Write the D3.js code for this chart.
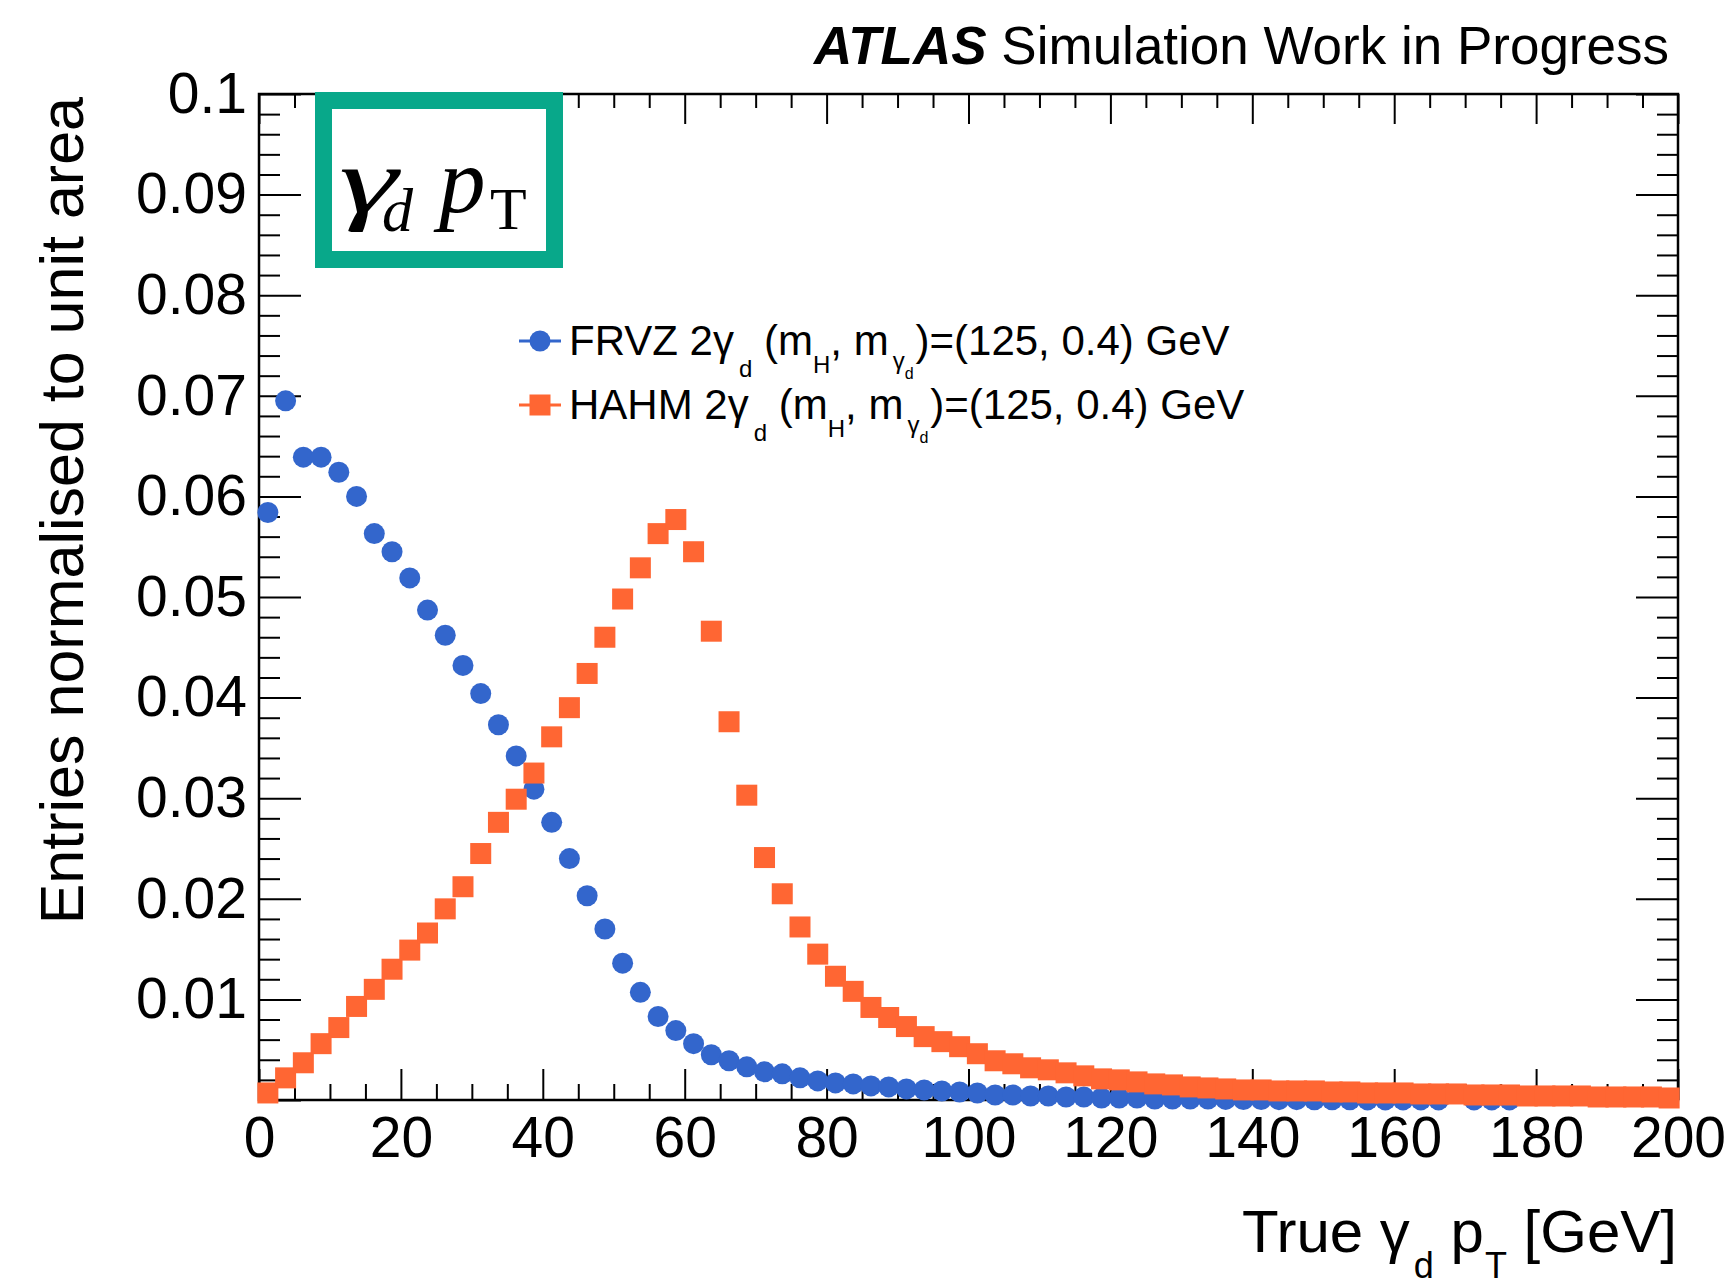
<!DOCTYPE html>
<html>
<head>
<meta charset="utf-8">
<script src="https://cdn.jsdelivr.net/npm/d3@7"></script>
<style>
  body { margin: 0; background: #ffffff; }
  svg { display: block; }
  text { font-family: "Liberation Sans", Arial, Helvetica, sans-serif; fill: #000; }
</style>
</head>
<body>
<svg id="chart" width="1733" height="1286"></svg>
<script>
// Histogram bin centres (80 bins of 2.5 GeV between 0 and 200 GeV)
const binCenters = [
  1.25, 3.75, 6.25, 8.75, 11.25, 13.75, 16.25, 18.75, 21.25, 23.75,
  26.25, 28.75, 31.25, 33.75, 36.25, 38.75, 41.25, 43.75, 46.25, 48.75,
  51.25, 53.75, 56.25, 58.75, 61.25, 63.75, 66.25, 68.75, 71.25, 73.75,
  76.25, 78.75, 81.25, 83.75, 86.25, 88.75, 91.25, 93.75, 96.25, 98.75,
  101.25, 103.75, 106.25, 108.75, 111.25, 113.75, 116.25, 118.75, 121.25, 123.75,
  126.25, 128.75, 131.25, 133.75, 136.25, 138.75, 141.25, 143.75, 146.25, 148.75,
  151.25, 153.75, 156.25, 158.75, 161.25, 163.75, 166.25, 168.75, 171.25, 173.75,
  176.25, 178.75, 181.25, 183.75, 186.25, 188.75, 191.25, 193.75, 196.25, 198.75
];

// FRVZ 2 gamma_d, normalised entries per bin (null = empty bin, not drawn)
const frvzValues = [
  0.0584, 0.0695, 0.0639, 0.0639, 0.0624, 0.0600, 0.0563, 0.0545, 0.0519, 0.0487,
  0.0462, 0.0432, 0.0404, 0.0373, 0.0342, 0.0309, 0.0276, 0.0240, 0.0203, 0.0170,
  0.0136, 0.0107, 0.0083, 0.0069, 0.0056, 0.0045, 0.0039, 0.0033, 0.0028, 0.0026,
  0.0022, 0.0019, 0.0017, 0.0016, 0.0014, 0.0013, 0.0011, 0.0010, 0.0009, 0.0008,
  0.0007, 0.0005, 0.0005, 0.0004, 0.0004, 0.0003, 0.0003, 0.0002, 0.0002, 0.0002,
  0.0001, 0.0001, 0.0001, 0.0001, 0.00006, 0.00005, 0.00004, 0.00003, 0.00003, 0.00002,
  0.00002, 0.00002, 0.00001, 0.00001, 0.00001, 0.00001, 0.00001, null, 0.00001, 0.00001,
  0.00001, null, null, null, null, null, null, null, null, null
];

// HAHM 2 gamma_d, normalised entries per bin
const hahmValues = [
  0.0007, 0.0022, 0.0037, 0.0056, 0.0072, 0.0093, 0.0110, 0.0130, 0.0149, 0.0166,
  0.0190, 0.0212, 0.0245, 0.0276, 0.0299, 0.0325, 0.0361, 0.0390, 0.0424, 0.0460,
  0.0498, 0.0529, 0.0563, 0.0577, 0.0545, 0.0466, 0.0376, 0.0303, 0.0241, 0.0205,
  0.0172, 0.0145, 0.0123, 0.0108, 0.0092, 0.0082, 0.0073, 0.0063, 0.0058, 0.0053,
  0.0046, 0.0039, 0.0036, 0.0032, 0.0030, 0.0027, 0.0024, 0.0021, 0.0020, 0.0018,
  0.0016, 0.0015, 0.0013, 0.0012, 0.0011, 0.0010, 0.0010, 0.0009, 0.0009, 0.0009,
  0.0008, 0.0008, 0.0007, 0.0007, 0.0007, 0.0006, 0.0006, 0.0006, 0.0005, 0.0005,
  0.0005, 0.0004, 0.0004, 0.0004, 0.0004, 0.0003, 0.0003, 0.0003, 0.0003, 0.0002
];

// Axis ticks and labels
const xMajorTicks = [0, 20, 40, 60, 80, 100, 120, 140, 160, 180, 200];
const xTickLabels = ["0", "20", "40", "60", "80", "100", "120", "140", "160", "180", "200"];
const yMajorTicks = [0, 0.01, 0.02, 0.03, 0.04, 0.05, 0.06, 0.07, 0.08, 0.09, 0.1];
const yTickLabels = ["", "0.01", "0.02", "0.03", "0.04", "0.05", "0.06", "0.07", "0.08", "0.09", "0.1"];

const COLOR_FRVZ = "#3366cc";
const COLOR_HAHM = "#ff6633";
const COLOR_BOX = "#08a88a";

const svg = d3.select("#chart");

const frame = { left: 259, right: 1678, top: 94, bottom: 1100 };
const x = d3.scaleLinear().domain([0, 200]).range([frame.left, frame.right]);
const y = d3.scaleLinear().domain([0, 0.1]).range([frame.bottom, frame.top]);

const TICK_FONT = 57;

// ---- axes (ticks point into the frame, ROOT style) ----
function styleAxis(g) {
  g.select(".domain").remove();
  g.selectAll(".tick line").attr("stroke", "#000").attr("stroke-width", 2);
  g.selectAll(".tick text")
    .attr("font-size", TICK_FONT)
    .style("font-family", "'Liberation Sans', Arial, Helvetica, sans-serif")
    .attr("fill", "#000");
}

const xMinor = x.ticks(40).filter(v => !xMajorTicks.includes(v));
const yMinor = y.ticks(50).filter(v => !yMajorTicks.some(m => Math.abs(m - v) < 1e-9));

// bottom
svg.append("g").attr("transform", `translate(0,${frame.bottom})`)
  .call(d3.axisBottom(x).tickValues(xMinor).tickSize(-16).tickFormat(""))
  .call(styleAxis);
svg.append("g").attr("transform", `translate(0,${frame.bottom})`)
  .call(d3.axisBottom(x).tickValues(xMajorTicks).tickSize(-31).tickPadding(17)
    .tickFormat((d, i) => xTickLabels[i]))
  .call(styleAxis);
// top
svg.append("g").attr("transform", `translate(0,${frame.top})`)
  .call(d3.axisTop(x).tickValues(xMinor).tickSize(-14).tickFormat(""))
  .call(styleAxis);
svg.append("g").attr("transform", `translate(0,${frame.top})`)
  .call(d3.axisTop(x).tickValues(xMajorTicks).tickSize(-30).tickFormat(""))
  .call(styleAxis);
// left
svg.append("g").attr("transform", `translate(${frame.left},0)`)
  .call(d3.axisLeft(y).tickValues(yMinor).tickSize(-21).tickFormat(""))
  .call(styleAxis);
svg.append("g").attr("transform", `translate(${frame.left},0)`)
  .call(d3.axisLeft(y).tickValues(yMajorTicks).tickSize(-42).tickPadding(12)
    .tickFormat((d, i) => yTickLabels[i]))
  .call(styleAxis);
// right
svg.append("g").attr("transform", `translate(${frame.right},0)`)
  .call(d3.axisRight(y).tickValues(yMinor).tickSize(-21).tickFormat(""))
  .call(styleAxis);
svg.append("g").attr("transform", `translate(${frame.right},0)`)
  .call(d3.axisRight(y).tickValues(yMajorTicks).tickSize(-42).tickFormat(""))
  .call(styleAxis);

// frame
svg.append("rect")
  .attr("x", frame.left).attr("y", frame.top)
  .attr("width", frame.right - frame.left).attr("height", frame.bottom - frame.top)
  .attr("fill", "none").attr("stroke", "#000").attr("stroke-width", 2.5);

// ---- data markers ----
const MARK = 21;
const frvzPts = binCenters.map((c, i) => ({ x: c, v: frvzValues[i] })).filter(d => d.v !== null);
const hahmPts = binCenters.map((c, i) => ({ x: c, v: hahmValues[i] })).filter(d => d.v !== null);

svg.append("g").selectAll("circle").data(frvzPts).join("circle")
  .attr("cx", d => x(d.x)).attr("cy", d => y(d.v))
  .attr("r", MARK / 2).attr("fill", COLOR_FRVZ);

svg.append("g").selectAll("rect").data(hahmPts).join("rect")
  .attr("x", d => x(d.x) - MARK / 2).attr("y", d => y(d.v) - MARK / 2)
  .attr("width", MARK).attr("height", MARK).attr("fill", COLOR_HAHM);

// ---- text helper: runs of text with sub/superscript offsets ----
function richText(parent, px, py, parts, size, anchor) {
  const t = parent.append("text")
    .attr("x", px).attr("y", py)
    .attr("font-size", size)
    .attr("text-anchor", anchor || "start");
  let cur = 0;
  parts.forEach(p => {
    const off = p.dy || 0;
    const ts = t.append("tspan")
      .attr("dy", off - cur)
      .attr("font-size", p.fs || size)
      .text(p.t);
    if (p.dx) ts.attr("dx", p.dx);
    if (p.style) ts.attr("font-style", p.style);
    if (p.weight) ts.attr("font-weight", p.weight);
    cur = off;
  });
  return t;
}

// ---- legend ----
const LEG_FONT = 42;
const legend = svg.append("g");
const legendRows = [
  { label: "FRVZ 2γ", color: COLOR_FRVZ, shape: "circle", cy: 341 },
  { label: "HAHM 2γ", color: COLOR_HAHM, shape: "square", cy: 405 }
];
legendRows.forEach(r => {
  legend.append("line")
    .attr("x1", 519).attr("x2", 561).attr("y1", r.cy).attr("y2", r.cy)
    .attr("stroke", r.color).attr("stroke-width", 3);
  if (r.shape === "circle") {
    legend.append("circle").attr("cx", 540).attr("cy", r.cy).attr("r", MARK / 2).attr("fill", r.color);
  } else {
    legend.append("rect").attr("x", 540 - MARK / 2).attr("y", r.cy - MARK / 2)
      .attr("width", MARK).attr("height", MARK).attr("fill", r.color);
  }
  richText(legend, 569, r.cy + 14, [
    { t: r.label },
    { t: "d", dy: 22, fs: 24, dx: 5 },
    { t: " (m" },
    { t: "H", dy: 18, fs: 24 },
    { t: ", m" },
    { t: "γ", dy: 14, fs: 24, dx: 4 },
    { t: "d", dy: 24, fs: 16 },
    { t: ")=(125, 0.4) GeV", dx: 2 }
  ], LEG_FONT, "start");
});

// ---- axis titles ----
richText(svg, 1677, 1252, [
  { t: "True γ" },
  { t: "d", dy: 26, fs: 36, dx: 4 },
  { t: " p" },
  { t: "T", dy: 26, fs: 36, dx: 1 },
  { t: " [GeV]" }
], 60, "end");

svg.append("text")
  .attr("transform", "translate(83,97) rotate(-90)")
  .attr("text-anchor", "end")
  .attr("font-size", 61)
  .text("Entries normalised to unit area");

// ---- experiment label ----
richText(svg, 1669, 64, [
  { t: "ATLAS", weight: "bold", style: "italic" },
  { t: " Simulation Work in Progress" }
], 53, "end");

// ---- boxed variable tag: gamma_d p_T ----
svg.append("rect")
  .attr("x", 323.5).attr("y", 100.5).attr("width", 231).attr("height", 159)
  .attr("fill", "#fff").attr("stroke", COLOR_BOX).attr("stroke-width", 17);

const serif = "'Liberation Serif', 'Times New Roman', Times, serif";
const tag = svg.append("g");
tag.append("text")
  .attr("transform", "translate(339,212) scale(1.6,1)")
  .style("font-family", serif).attr("font-style", "italic").attr("font-size", 93)
  .text("γ");
tag.append("text")
  .attr("x", 382).attr("y", 231)
  .style("font-family", serif).attr("font-style", "italic").attr("font-size", 62)
  .text("d");
tag.append("text")
  .attr("x", 439).attr("y", 212)
  .style("font-family", serif).attr("font-style", "italic").attr("font-size", 93)
  .text("p");
tag.append("text")
  .attr("x", 490).attr("y", 229)
  .style("font-family", serif).attr("font-size", 60)
  .text("T");
</script>
</body>
</html>
